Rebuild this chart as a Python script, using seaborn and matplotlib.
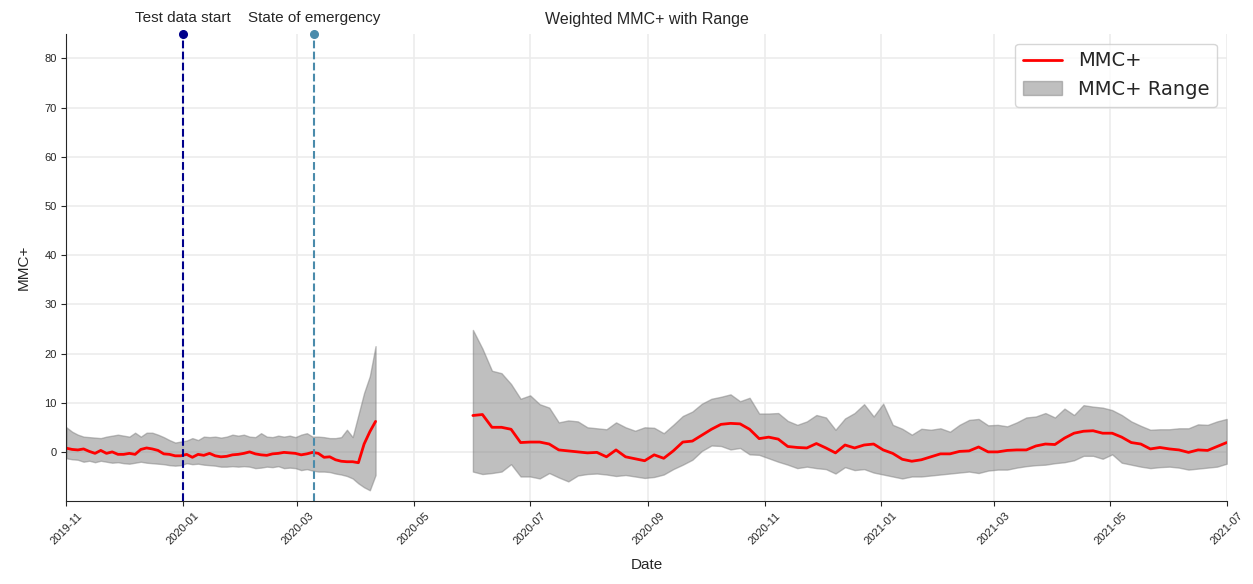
import numpy as np
import pandas as pd
import matplotlib
matplotlib.use("Agg")
import matplotlib.pyplot as plt
import matplotlib.dates as mdates
from matplotlib.patches import Patch
from matplotlib.lines import Line2D
import seaborn as sns

# 資料: 第一段 2019-11-01 起每 3 天, 第二段 2020-06-01 起每 5 天
seg1_start, seg1_step = "2019-11-01", "3D"
seg2_start, seg2_step = "2020-06-01", "5D"

mmc_1 = [0.75, 0.5, 0.4, 0.6, 0.1, -0.3, 0.3, -0.3, 0.0, -0.5,
         -0.5, -0.3, -0.5, 0.5, 0.8, 0.6, 0.3, -0.4, -0.5, -0.8,
         -0.8, -0.5, -1.1, -0.5, -0.7, -0.3, -0.8, -1.0, -0.9, -0.6,
         -0.5, -0.3, 0.0, -0.4, -0.6, -0.7, -0.4, -0.3, -0.1, -0.2,
         -0.3, -0.6, -0.4, -0.1, -0.3, -1.1, -1.0, -1.6, -1.9, -2.0,
         -2.0, -2.2, 1.6, 4.1, 6.2]
upper_1 = [5.0, 4.1, 3.5, 3.1, 3.0, 2.9, 2.8, 3.1, 3.3, 3.5,
           3.3, 3.1, 3.9, 3.1, 3.9, 3.9, 3.5, 3.0, 2.4, 1.9,
           2.1, 2.3, 2.8, 2.4, 3.1, 3.0, 3.1, 2.9, 3.1, 3.5,
           3.3, 3.5, 3.1, 3.0, 3.8, 3.1, 3.0, 3.3, 3.1, 3.3,
           3.0, 3.5, 3.8, 3.1, 3.1, 3.0, 2.8, 2.8, 3.0, 4.5,
           3.0, 7.5, 12.0, 15.4, 21.5]
lower_1 = [-1.3, -1.5, -1.6, -2.0, -1.8, -2.1, -1.8, -2.0, -2.2, -2.1,
           -2.3, -2.4, -2.2, -2.0, -2.2, -2.3, -2.4, -2.5, -2.7, -2.8,
           -2.7, -2.3, -2.5, -2.4, -2.6, -2.7, -2.8, -3.0, -3.0, -2.9,
           -3.0, -2.9, -3.0, -3.3, -3.2, -3.0, -3.1, -2.9, -3.3, -3.2,
           -3.3, -3.7, -3.5, -3.8, -4.0, -4.0, -4.1, -4.4, -4.6, -4.9,
           -5.4, -6.4, -7.2, -7.8, -4.7]

mmc_2 = [7.4, 7.6, 5.0, 5.0, 4.6, 1.9, 2.0, 2.0, 1.6, 0.4,
         0.2, 0.0, -0.2, -0.1, -1.0, 0.4, -1.0, -1.4, -1.8, -0.6,
         -1.3, 0.2, 2.0, 2.2, 3.4, 4.6, 5.6, 5.8, 5.7, 4.6,
         2.7, 3.0, 2.6, 1.1, 0.9, 0.8, 1.7, 0.8, -0.2, 1.4,
         0.8, 1.4, 1.6, 0.4, -0.3, -1.5, -1.9, -1.6, -1.0, -0.4,
         -0.4, 0.1, 0.2, 1.0, 0.0, 0.0, 0.3, 0.4, 0.4, 1.2,
         1.6, 1.5, 2.8, 3.8, 4.2, 4.3, 3.8, 3.8, 3.0, 1.9,
         1.6, 0.6, 0.9, 0.6, 0.4, -0.1, 0.4, 0.3, 1.1, 1.9]
upper_2 = [24.8, 21.0, 16.5, 16.0, 13.8, 10.8, 11.5, 9.7, 9.0, 6.0,
           6.4, 6.2, 5.0, 4.8, 4.6, 6.0, 5.0, 4.3, 5.0, 4.9,
           3.8, 5.5, 7.3, 8.2, 9.8, 10.8, 11.2, 11.7, 10.3, 11.0,
           7.8, 7.8, 7.9, 6.3, 5.5, 6.2, 7.5, 7.0, 4.5, 6.8,
           7.9, 9.7, 7.2, 9.8, 5.5, 4.7, 3.5, 4.7, 4.5, 4.8,
           4.1, 5.5, 6.5, 6.7, 5.4, 5.5, 5.2, 6.0, 7.0, 7.2,
           7.9, 7.0, 8.8, 7.5, 9.5, 9.2, 9.0, 8.5, 7.5, 6.2,
           5.3, 4.5, 4.6, 4.6, 4.8, 4.8, 5.6, 5.5, 6.2, 6.7]
lower_2 = [-4.0, -4.5, -4.3, -4.0, -2.5, -5.0, -5.0, -5.4, -4.3, -5.2,
           -6.0, -4.8, -4.5, -4.4, -4.6, -4.9, -4.7, -5.0, -5.3, -5.1,
           -4.6, -3.5, -2.6, -1.6, 0.2, 1.3, 1.2, 0.5, 0.8, -0.5,
           -0.6, -1.3, -2.0, -2.6, -3.3, -3.0, -3.3, -3.5, -4.4, -3.1,
           -3.7, -3.5, -4.2, -4.6, -5.0, -5.4, -5.0, -5.0, -4.8, -4.6,
           -4.4, -4.2, -4.0, -4.3, -3.8, -3.6, -3.6, -3.2, -2.9, -2.7,
           -2.6, -2.3, -2.1, -1.7, -0.8, -0.8, -1.4, -0.5, -2.2, -2.6,
           -3.0, -3.3, -3.1, -3.0, -3.2, -3.6, -3.4, -3.2, -3.0, -2.4]

events = ["Test data start", "State of emergency"]
event_dates = ["2020-01-01", "2020-03-10"]
event_colors = ["#00008b", "#4a8bab"]

df1 = pd.DataFrame({"Date": pd.date_range(seg1_start, periods=len(mmc_1), freq=seg1_step),
                    "MMC+": mmc_1, "low": lower_1, "high": upper_1})
df2 = pd.DataFrame({"Date": pd.date_range(seg2_start, periods=len(mmc_2), freq=seg2_step),
                    "MMC+": mmc_2, "low": lower_2, "high": upper_2})

sns.set_style("ticks")
plt.rcParams["font.family"] = ["Liberation Sans", "DejaVu Sans"]

fig, ax = plt.subplots(figsize=(12.53, 5.84), dpi=100)
fig.subplots_adjust(left=0.053, right=0.979, top=0.942, bottom=0.142)

for d in (df1, df2):
    ax.fill_between(d["Date"], d["low"], d["high"], color="grey", alpha=0.5, lw=1)
    sns.lineplot(data=d, x="Date", y="MMC+", color="red", lw=2, ax=ax)

ymax = 85
for name, dt, c in zip(events, event_dates, event_colors):
    t = pd.Timestamp(dt)
    ax.axvline(t, color=c, ls="--", lw=1.5)
    ax.plot([t], [ymax], "o", color=c, ms=5.5, clip_on=False, zorder=5)
    ax.text(t, ymax + 1.8, name, ha="center", va="bottom", fontsize=11)

ax.set_title("Weighted MMC+ with Range", fontsize=11.5, pad=7)
ax.set_xlim(pd.Timestamp("2019-11-01"), pd.Timestamp("2021-07-01"))
ax.set_ylim(-10, ymax)
ax.set_yticks(range(0, 81, 10))
ax.xaxis.set_major_locator(mdates.MonthLocator(bymonth=[1, 3, 5, 7, 9, 11]))
ax.xaxis.set_major_formatter(mdates.DateFormatter("%Y-%m"))
plt.setp(ax.get_xticklabels(), rotation=45, fontsize=8)
plt.setp(ax.get_yticklabels(), fontsize=8)
ax.grid(True, color="#ececec", lw=1.2)
ax.set_axisbelow(True)
ax.set_xlabel("Date", fontsize=11, labelpad=8)
ax.set_ylabel("MMC+", fontsize=11, labelpad=10)
sns.despine(ax=ax)

handles = [Line2D([], [], color="red", lw=2),
           Patch(facecolor="grey", edgecolor="grey", alpha=0.5)]
ax.legend(handles, ["MMC+", "MMC+ Range"], loc="upper right",
          prop={"family": "DejaVu Sans", "size": 14})

fig.savefig("out.png", dpi=100)
